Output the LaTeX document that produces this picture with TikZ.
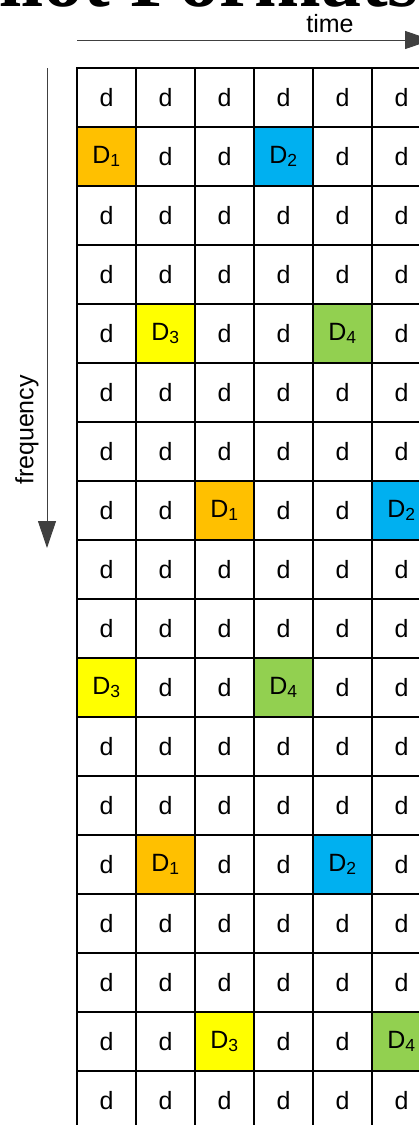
\documentclass[tikz,border=0pt]{standalone}
\usepackage{fontspec}
\setmainfont{Liberation Sans}
\newfontfamily\titlefont{Liberation Serif}
\definecolor{pilot1}{RGB}{255,192,0}
\definecolor{pilot2}{RGB}{0,176,240}
\definecolor{pilot3}{RGB}{255,255,0}
\definecolor{pilot4}{RGB}{146,208,80}
\usetikzlibrary{arrows.meta}

\begin{document}
\begin{tikzpicture}[x=1pt, y=1pt,
  cell/.style={draw, line width=2pt, minimum size=59pt, inner sep=0pt,
               font=\fontsize{25}{30}\selectfont},
  axis/.style={line width=1pt, black!75, -{Triangle[length=27pt, width=18pt]}},
  label/.style={font=\fontsize{25}{30}\selectfont, inner sep=0pt},
]
  \useasboundingbox (0,0) rectangle (419,-1125);
  \clip (0,0) rectangle (419,-1125);

  \node[font=\titlefont\bfseries\fontsize{80}{84}\selectfont, anchor=base west,
        inner sep=0pt] (title) at (-50,-6) {Pilot Formats};

  % data and pilot cells
  \foreach \r in {1,...,18}
    \foreach \c in {1,...,6} {
      \pgfmathtruncatemacro\isp{mod(\r,3)==2 && (\c==1+mod((\r-2)/3,3) || \c==4+mod((\r-2)/3,3))}
      \ifnum\isp=1
        \pgfmathtruncatemacro\pid{(\c>3 ? 2 : 1) + 2*mod((\r-2)/3,2)}
        \node[cell, fill=pilot\pid] (c-\r-\c) at ({77+59*(\c-0.5)}, {-68-59*(\r-0.5)}) {D\textsubscript{\pid}};
      \else
        \node[cell] (c-\r-\c) at ({77+59*(\c-0.5)}, {-68-59*(\r-0.5)}) {d};
      \fi
    }

  % axes
  \coordinate (t0) at (77,-40);
  \coordinate (t1) at (432,-40);
  \draw[axis] (t0) -- (t1);
  \node[label, anchor=base] (time) at (330,-32) {time};

  \coordinate (f0) at (47,-68);
  \coordinate (f1) at (47,-548);
  \draw[axis] (f0) -- (f1);
  \node[label, rotate=90] (freq) at (27,-430) {frequency};
\end{tikzpicture}
\end{document}
